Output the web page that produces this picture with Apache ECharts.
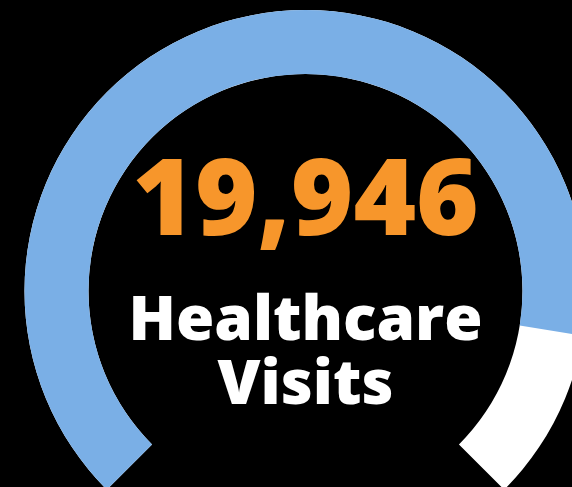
<!DOCTYPE html>
<html>
<head>
<meta charset="utf-8">
<script src="https://cdn.jsdelivr.net/npm/echarts@6/dist/echarts.min.js"></script>
<style>
html,body{margin:0;padding:0;background:#000;}
#chart{width:572px;height:487px;}
</style>
</head>
<body>
<div id="chart"></div>
<script>
// Data
var metricNames = ['Healthcare\nVisits'];
var metricValues = [19946];
var gaugeMax = [23000];

var chart = echarts.init(document.getElementById('chart'), null, {renderer: 'canvas'});
var option = {
  backgroundColor: '#000000',
  animation: false,
  series: [{
    type: 'gauge',
    center: [305.5, 291],
    radius: 281,
    startAngle: 225,
    endAngle: -45,
    min: 0,
    max: gaugeMax[0],
    clockwise: true,
    axisLine: {
      lineStyle: { width: 64, color: [[1, '#FFFFFF']] }
    },
    progress: {
      show: true,
      width: 64,
      roundCap: false,
      itemStyle: { color: '#7AAFE6' }
    },
    pointer: { show: false },
    anchor: { show: false },
    axisTick: { show: false },
    splitLine: { show: false },
    axisLabel: { show: false },
    title: {
      show: true,
      offsetCenter: [0, 63],
      color: '#FFFFFF',
      fontSize: 62,
      lineHeight: 64,
      fontWeight: 800,
      fontFamily: 'Open Sans'
    },
    detail: {
      show: true,
      offsetCenter: [0, -86],
      color: '#F7962B',
      fontSize: 107,
      fontWeight: 800,
      fontFamily: 'Open Sans',
      formatter: function (v) { return Number(v).toLocaleString('en-US'); }
    },
    data: metricValues.map(function (v, i) { return { value: v, name: metricNames[i] }; })
  }]
};
chart.setOption(option);
</script>
</body>
</html>
